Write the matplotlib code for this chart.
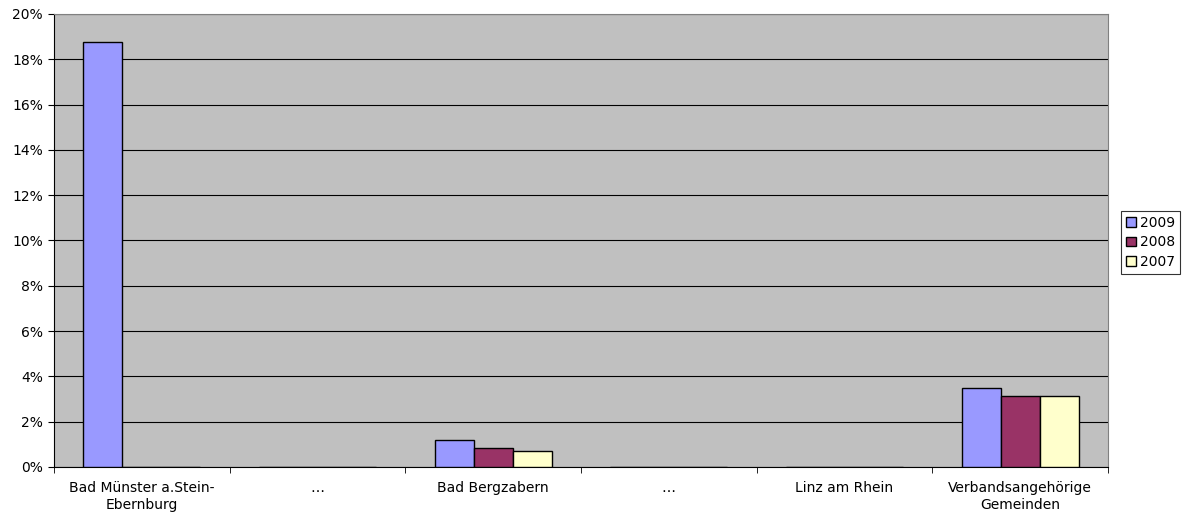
import matplotlib
matplotlib.use("Agg")
import matplotlib.pyplot as plt
import numpy as np
from matplotlib.ticker import FuncFormatter

plt.rcParams['font.family'] = ['DejaVu Sans']

categories = ["Bad Münster a.Stein-\nEbernburg", "…", "Bad Bergzabern", "…",
              "Linz am Rhein", "Verbandsangehörige\nGemeinden"]
series_names = ["2009", "2008", "2007"]
v2009 = [18.75, 0, 1.19, 0, 0, 3.48]
v2008 = [0, 0, 0.83, 0, 0, 3.15]
v2007 = [0, 0, 0.69, 0, 0, 3.14]
yticks = [0, 2, 4, 6, 8, 10, 12, 14, 16, 18, 20]
colors = ["#9999FF", "#993366", "#FFFFCC"]

fs = 10
fig = plt.figure(figsize=(11.85, 5.12), dpi=100)
ax = fig.add_axes([54/1185, 45/512, 1054/1185, 453/512])
ax.set_facecolor("#C0C0C0")

x = np.arange(len(categories))
w = 0.222
for i, (vals, name) in enumerate(zip([v2009, v2008, v2007], series_names)):
    ax.bar(x + (i - 1) * w, vals, width=w, color=colors[i], edgecolor="black",
           linewidth=1.0, label=name, zorder=3)

ax.set_xlim(-0.5, len(categories) - 0.5)
ax.set_ylim(0, 20)
ax.set_yticks(yticks)
ax.yaxis.set_major_formatter(FuncFormatter(lambda v, p: f"{int(v)}%"))
ax.grid(axis='y', color='black', linewidth=0.8, zorder=1)
ax.set_axisbelow(True)

ax.set_xticks(x)
ax.set_xticklabels(categories, fontsize=fs, linespacing=1.25)
ax.tick_params(axis='x', length=0, pad=10)
ax.set_xticks(np.arange(len(categories) + 1) - 0.5, minor=True)
ax.tick_params(axis='x', which='minor', length=4, direction='out', color='black')
ax.tick_params(axis='y', labelsize=fs, length=4, direction='out', color='black', pad=4)

for s in ['top', 'right']:
    ax.spines[s].set_color('#808080')
for s in ['left', 'bottom']:
    ax.spines[s].set_color('black')

leg = ax.legend(loc='upper left', bbox_to_anchor=(1121/1054 - 54/1054, (467-211)/453),
                fontsize=fs, frameon=True, fancybox=False, edgecolor='black',
                handlelength=0.7, handleheight=0.7, handletextpad=0.3,
                borderpad=0.35, labelspacing=0.4, borderaxespad=0)
leg.get_frame().set_linewidth(0.8)

fig.savefig("out.png", dpi=100)
